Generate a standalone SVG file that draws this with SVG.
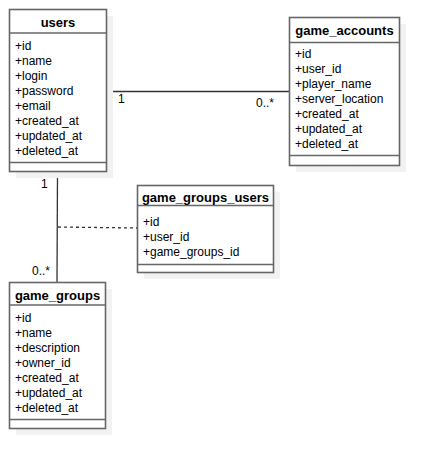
<svg xmlns="http://www.w3.org/2000/svg" width="439" height="469" viewBox="0 0 439 469">
<style>
.box{fill:#fff;stroke:#666;stroke-width:1.6}
.sh{fill:#f2f2f2}
.ln{stroke:#666;stroke-width:1.6;fill:none}
.cn{stroke:#333;stroke-width:1.3;fill:none}
.t{font-family:"Liberation Sans",Arial,sans-serif;font-size:12px;fill:#000}
.h{font-family:"Liberation Sans",Arial,sans-serif;font-size:13px;font-weight:bold;fill:#000;text-anchor:middle}
</style>
<rect width="439" height="469" fill="#fff"/>
<g id="connectors">
<line class="cn" x1="107" y1="91.5" x2="289.5" y2="91.5"/>
<line class="cn" x1="57.5" y1="172" x2="57" y2="282"/>
<line class="cn" x1="58" y1="227" x2="137" y2="228" stroke-dasharray="3,3" stroke-width="1"/>
<text class="t" x="118" y="103">1</text>
<text class="t" x="256" y="107">0..*</text>
<text class="t" x="41" y="188">1</text>
<text class="t" x="32" y="275">0..*</text>
</g>
<g id="users">
<rect class="sh" x="16" y="16" width="97" height="162"/>
<rect class="box" x="9.5" y="9.5" width="97" height="162"/>
<line class="ln" x1="9.5" y1="33" x2="106.5" y2="33"/>
<line class="ln" x1="9.5" y1="162.5" x2="106.5" y2="162.5"/>
<text class="h" x="58" y="27">users</text>
<text class="t" x="15" y="50">+id</text>
<text class="t" x="15" y="65">+name</text>
<text class="t" x="15" y="80">+login</text>
<text class="t" x="15" y="95">+password</text>
<text class="t" x="15" y="110">+email</text>
<text class="t" x="15" y="125">+created_at</text>
<text class="t" x="15" y="140">+updated_at</text>
<text class="t" x="15" y="155">+deleted_at</text>
</g>
<g id="game_accounts">
<rect class="sh" x="296" y="24" width="110" height="148"/>
<rect class="box" x="289.5" y="17.5" width="110" height="148"/>
<line class="ln" x1="289.5" y1="42.5" x2="399.5" y2="42.5"/>
<line class="ln" x1="289.5" y1="155.5" x2="399.5" y2="155.5"/>
<text class="h" x="344.5" y="35">game_accounts</text>
<text class="t" x="295" y="58">+id</text>
<text class="t" x="295" y="73">+user_id</text>
<text class="t" x="295" y="88">+player_name</text>
<text class="t" x="295" y="103">+server_location</text>
<text class="t" x="295" y="118">+created_at</text>
<text class="t" x="295" y="133">+updated_at</text>
<text class="t" x="295" y="148">+deleted_at</text>
</g>
<g id="game_groups_users">
<rect class="sh" x="144" y="192" width="136" height="87"/>
<rect class="box" x="137.5" y="185.5" width="136" height="87"/>
<line class="ln" x1="137.5" y1="205.5" x2="273.5" y2="205.5"/>
<line class="ln" x1="137.5" y1="264.5" x2="273.5" y2="264.5"/>
<text class="h" x="205.5" y="202">game_groups_users</text>
<text class="t" x="143" y="226">+id</text>
<text class="t" x="143" y="241">+user_id</text>
<text class="t" x="143" y="256">+game_groups_id</text>
</g>
<g id="game_groups">
<rect class="sh" x="16" y="289" width="96" height="146"/>
<rect class="box" x="9.5" y="282.5" width="96" height="146"/>
<line class="ln" x1="9.5" y1="305" x2="105.5" y2="305"/>
<line class="ln" x1="9.5" y1="419.5" x2="105.5" y2="419.5"/>
<text class="h" x="57.5" y="300">game_groups</text>
<text class="t" x="15" y="322">+id</text>
<text class="t" x="15" y="337">+name</text>
<text class="t" x="15" y="352">+description</text>
<text class="t" x="15" y="367">+owner_id</text>
<text class="t" x="15" y="382">+created_at</text>
<text class="t" x="15" y="397">+updated_at</text>
<text class="t" x="15" y="412">+deleted_at</text>
</g>
</svg>
